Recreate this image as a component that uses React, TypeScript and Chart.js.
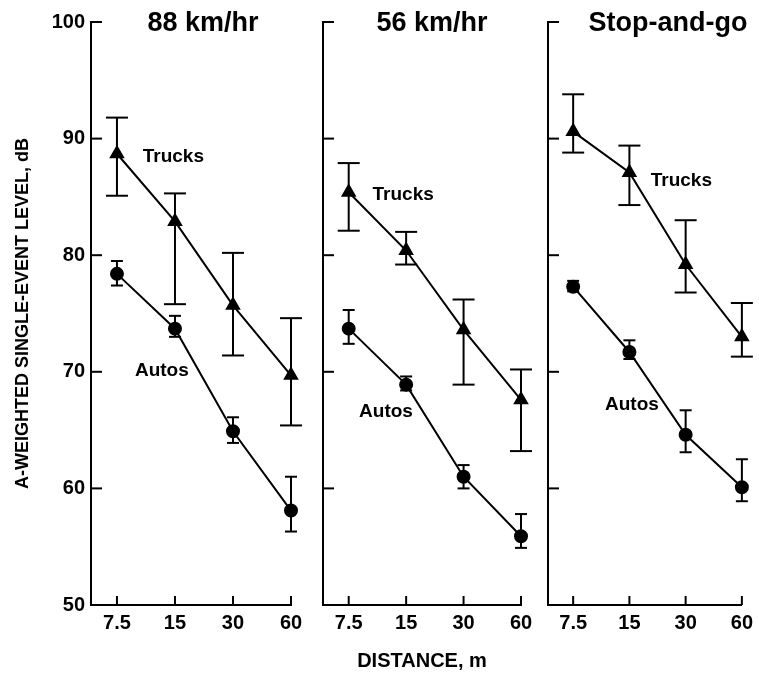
import React, { useEffect, useRef } from 'react';
import { Chart, registerables } from 'chart.js';

Chart.register(...registerables);

// ---- data ----
const distances = [7.5, 15, 30, 60];
const yTickValues = [50, 60, 70, 80, 90, 100];
const panelTitles = ['88 km/hr', '56 km/hr', 'Stop-and-go'];

const trucks88 = [88.7, 82.9, 75.7, 69.7];
const trucks88Hi = [91.8, 85.3, 80.2, 74.6];
const trucks88Lo = [85.1, 75.8, 71.4, 65.4];
const autos88 = [78.4, 73.7, 64.9, 58.1];
const autos88Hi = [79.5, 74.8, 66.1, 61.0];
const autos88Lo = [77.4, 73.0, 63.9, 56.3];

const trucks56 = [85.4, 80.4, 73.6, 67.6];
const trucks56Hi = [87.9, 82.0, 76.2, 70.2];
const trucks56Lo = [82.1, 79.2, 68.9, 63.2];
const autos56 = [73.7, 68.9, 61.0, 55.9];
const autos56Hi = [75.3, 69.6, 62.0, 57.8];
const autos56Lo = [72.4, 68.4, 60.0, 54.9];

const trucksSG = [90.6, 87.1, 79.2, 73.0];
const trucksSGHi = [93.8, 89.4, 83.0, 75.9];
const trucksSGLo = [88.8, 84.3, 76.8, 71.3];
const autosSG = [77.3, 71.7, 64.6, 60.1];
const autosSGHi = [77.8, 72.7, 66.7, 62.5];
const autosSGLo = [76.9, 71.1, 63.1, 58.9];

// label anchors (data coordinates: distance, dB)
const truckLabelX = [10.2, 10.0, 19.5];
const truckLabelY = [88.4, 85.2, 86.4];
const autoLabelX = [9.3, 8.5, 11.1];
const autoLabelY = [70.1, 66.6, 67.2];

const FONT = "'Liberation Sans', Arial, Helvetica, sans-serif";

const panels = [
  { trucks: trucks88, tHi: trucks88Hi, tLo: trucks88Lo, autos: autos88, aHi: autos88Hi, aLo: autos88Lo },
  { trucks: trucks56, tHi: trucks56Hi, tLo: trucks56Lo, autos: autos56, aHi: autos56Hi, aLo: autos56Lo },
  { trucks: trucksSG, tHi: trucksSGHi, tLo: trucksSGLo, autos: autosSG, aHi: autosSGHi, aLo: autosSGLo },
];

// layout (page pixels)
const W = 759;
const H = 677;
const areaLeft = [91, 323, 548];
const areaRight = [291, 521, 747];
const titleShift = [12, 10, 23];

function makeDecor(idx: number) {
  const p = panels[idx];
  return {
    id: 'decor' + idx,
    beforeDatasetsDraw(chart: any) {
      const ctx = chart.ctx;
      const xs = chart.scales.x;
      const ys = chart.scales.y;
      const area = chart.chartArea;
      ctx.save();
      ctx.strokeStyle = '#000';
      ctx.lineWidth = 2;
      const line = (x1: number, y1: number, x2: number, y2: number) => {
        ctx.beginPath();
        ctx.moveTo(x1, y1);
        ctx.lineTo(x2, y2);
        ctx.stroke();
      };
      // error bars
      const bars = [
        { hi: p.tHi, lo: p.tLo, cap: 22 },
        { hi: p.aHi, lo: p.aLo, cap: 12 },
      ];
      bars.forEach((b) => {
        distances.forEach((d, i) => {
          const px = xs.getPixelForValue(d);
          const yh = ys.getPixelForValue(b.hi[i]);
          const yl = ys.getPixelForValue(b.lo[i]);
          line(px, yh, px, yl);
          line(px - b.cap / 2, yh, px + b.cap / 2, yh);
          line(px - b.cap / 2, yl, px + b.cap / 2, yl);
        });
      });
      // inward ticks
      yTickValues.forEach((v) => {
        if (v === 50) return;
        const py = ys.getPixelForValue(v);
        line(area.left, py, area.left + 11, py);
      });
      distances.forEach((d) => {
        const px = xs.getPixelForValue(d);
        line(px, area.bottom, px, area.bottom - 9);
      });
      ctx.restore();
    },
    afterDatasetsDraw(chart: any) {
      const ctx = chart.ctx;
      const xs = chart.scales.x;
      const ys = chart.scales.y;
      const area = chart.chartArea;
      ctx.save();
      ctx.fillStyle = '#000';
      // series labels
      ctx.font = `bold 19px ${FONT}`;
      ctx.textAlign = 'left';
      ctx.textBaseline = 'middle';
      ctx.fillText('Trucks', xs.getPixelForValue(truckLabelX[idx]), ys.getPixelForValue(truckLabelY[idx]));
      ctx.fillText('Autos', xs.getPixelForValue(autoLabelX[idx]), ys.getPixelForValue(autoLabelY[idx]));
      // panel title
      ctx.font = `bold 27px ${FONT}`;
      ctx.textAlign = 'center';
      ctx.fillText(panelTitles[idx], (area.left + area.right) / 2 + titleShift[idx], 24);
      ctx.restore();
    },
  };
}

function makeConfig(idx: number): any {
  const p = panels[idx];
  const isFirst = idx === 0;
  const isMid = idx === 1;
  return {
    type: 'line',
    data: {
      datasets: [
        {
          label: 'Trucks',
          data: distances.map((d, i) => ({ x: d, y: p.trucks[i] })),
          borderColor: '#000',
          backgroundColor: '#000',
          borderWidth: 2,
          pointStyle: 'triangle',
          pointRadius: 7,
          pointBackgroundColor: '#000',
          pointBorderColor: '#000',
          tension: 0,
          clip: false,
        },
        {
          label: 'Autos',
          data: distances.map((d, i) => ({ x: d, y: p.autos[i] })),
          borderColor: '#000',
          backgroundColor: '#000',
          borderWidth: 2,
          pointStyle: 'circle',
          pointRadius: 6,
          pointBackgroundColor: '#000',
          pointBorderColor: '#000',
          tension: 0,
          clip: false,
        },
      ],
    },
    options: {
      responsive: false,
      animation: false,
      devicePixelRatio: 1,
      events: [],
      layout: {
        padding: {
          left: isFirst ? 0 : areaLeft[idx],
          right: W - areaRight[idx],
          top: 22,
          bottom: 0,
        },
      },
      plugins: {
        legend: { display: false },
        tooltip: { enabled: false },
        title: { display: false },
      },
      scales: {
        x: {
          type: 'logarithmic',
          min: 5.5,
          max: 60,
          afterBuildTicks: (scale: any) => {
            scale.ticks = distances.map((d) => ({ value: d }));
          },
          afterFit: (scale: any) => {
            scale.height = 72;
          },
          grid: { display: false, drawTicks: false },
          border: { display: true, color: '#000', width: 2 },
          ticks: {
            color: '#000',
            font: { family: FONT, size: 20, weight: 'bold' },
            padding: 6,
            autoSkip: false,
            maxRotation: 0,
            callback: (v: any) => String(v),
          },
          title: {
            display: isMid,
            text: 'DISTANCE, m',
            color: '#000',
            font: { family: FONT, size: 20, weight: 'bold' },
            padding: { top: 0, bottom: 4 },
          },
        },
        y: {
          type: 'linear',
          min: 50,
          max: 100,
          afterBuildTicks: (scale: any) => {
            scale.ticks = yTickValues.map((v) => ({ value: v }));
          },
          afterFit: (scale: any) => {
            scale.width = isFirst ? areaLeft[0] : 0;
          },
          grid: { display: false, drawTicks: false },
          border: { display: true, color: '#000', width: 2 },
          ticks: {
            display: isFirst,
            color: '#000',
            font: { family: FONT, size: 20, weight: 'bold' },
            padding: 6,
          },
          title: {
            display: isFirst,
            text: 'A-WEIGHTED SINGLE-EVENT LEVEL, dB',
            color: '#000',
            font: { family: FONT, size: 18, weight: 'bold' },
            padding: { top: 12, bottom: 0 },
          },
        },
      },
    },
    plugins: [makeDecor(idx)],
  };
}

function Panel({ idx }: { idx: number }) {
  const ref = useRef<HTMLCanvasElement | null>(null);
  useEffect(() => {
    if (!ref.current) return;
    const chart = new Chart(ref.current, makeConfig(idx));
    return () => chart.destroy();
  }, [idx]);
  return (
    <canvas
      ref={ref}
      width={W}
      height={H}
      style={{ position: 'absolute', left: 0, top: 0, width: W, height: H }}
    />
  );
}

export default function App() {
  return (
    <div style={{ position: 'absolute', left: 0, top: 0, width: W, height: H, background: '#fff' }}>
      {panels.map((_, i) => (
        <Panel key={i} idx={i} />
      ))}
    </div>
  );
}
